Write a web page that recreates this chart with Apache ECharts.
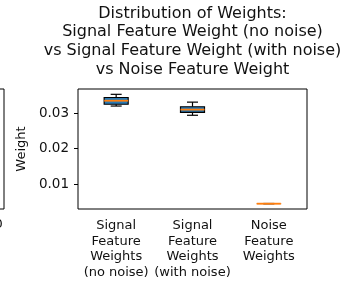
<!DOCTYPE html>
<html lang="en">
  <head>
    <meta charset="UTF-8" />
    <title>Distribution of Weights</title>
    <script src="https://cdn.jsdelivr.net/npm/echarts@6.0.0/dist/echarts.min.js"></script>
    <style>
      body {
        margin: 0;
        padding: 0;
        background: #fff;
      }
      #chart {
        width: 344px;
        height: 283px;
      }
    </style>
  </head>
  <body>
    <div id="chart"></div>

    <script>
      // data
      var categories = [
        'Signal\nFeature\nWeights\n(no noise)',
        'Signal\nFeature\nWeights\n(with noise)',
        'Noise\nFeature\nWeights'
      ];
      // [low whisker, Q1, median, Q3, high whisker]
      var signalNoNoise = [0.0320, 0.0325, 0.0335, 0.0344, 0.0353];
      var signalWithNoise = [0.0294, 0.0302, 0.0310, 0.0318, 0.0331];
      var noiseWeights = [0.00445, 0.00448, 0.0045, 0.00452, 0.00455];
      var yTicks = [0.01, 0.02, 0.03];

      var boxes = [signalNoNoise, signalWithNoise, noiseWeights].map(function (b, i) {
        return [i].concat(b);
      });

      var font = 'DejaVu Sans';
      var chart = echarts.init(document.getElementById('chart'));

      var option = {
        animation: false,
        title: {
          text: 'Distribution of Weights:\nSignal Feature Weight (no noise)\nvs Signal Feature Weight (with noise)\nvs Noise Feature Weight',
          left: 192.5,
          top: 4,
          padding: 0,
          textAlign: 'center',
          textStyle: {
            fontFamily: font,
            fontSize: 16,
            fontWeight: 'normal',
            color: '#111',
            lineHeight: 18.7
          }
        },
        grid: [
          {
            left: 78,
            right: 37,
            top: 89,
            bottom: 74,
            outerBoundsMode: 'none',
            show: true,
            borderColor: '#000',
            borderWidth: 1
          },
          {
            // right edge of the neighbouring subplot
            left: -100,
            width: 104,
            top: 89,
            bottom: 74,
            outerBoundsMode: 'none',
            show: true,
            borderColor: '#000',
            borderWidth: 1
          }
        ],
        xAxis: [
          {
            type: 'category',
            data: categories,
            gridIndex: 0,
            axisLine: { show: false },
            axisTick: { alignWithLabel: true, length: 4, lineStyle: { color: '#000' } },
            axisLabel: {
              fontFamily: font,
              fontSize: 13,
              color: '#111',
              lineHeight: 15.5,
              margin: 9,
              interval: 0
            }
          },
          {
            type: 'value',
            gridIndex: 1,
            min: 0,
            max: 11,
            interval: 10,
            splitLine: { show: false },
            axisLine: { show: false },
            axisTick: { show: true, length: 4, lineStyle: { color: '#000' } },
            axisLabel: { fontFamily: font, fontSize: 13, color: '#111', margin: 9 }
          }
        ],
        yAxis: [
          {
            type: 'value',
            gridIndex: 0,
            min: 0.003,
            max: 0.0368,
            name: 'Weight',
            nameLocation: 'middle',
            nameGap: 42,
            nameTextStyle: { fontFamily: font, fontSize: 13, color: '#111' },
            splitLine: { show: false },
            axisLine: { show: false },
            axisTick: {
              show: true,
              length: 4,
              customValues: yTicks,
              lineStyle: { color: '#000' }
            },
            axisLabel: {
              fontFamily: font,
              fontSize: 13.5,
              color: '#111',
              margin: 9,
              customValues: yTicks,
              formatter: function (v) { return v.toFixed(2); }
            }
          },
          {
            type: 'value',
            gridIndex: 1,
            show: false
          }
        ],
        series: [
          {
            type: 'custom',
            xAxisIndex: 0,
            yAxisIndex: 0,
            data: boxes,
            renderItem: function (params, api) {
              var x = api.value(0);
              var lo = api.coord([x, api.value(1)]);
              var q1 = api.coord([x, api.value(2)]);
              var med = api.coord([x, api.value(3)]);
              var q3 = api.coord([x, api.value(4)]);
              var hi = api.coord([x, api.value(5)]);
              var cx = lo[0];
              var bw = 24, cw = 11;
              var line = { stroke: '#000', lineWidth: 1.2 };
              return {
                type: 'group',
                children: [
                  { type: 'line', shape: { x1: cx, y1: hi[1], x2: cx, y2: q3[1] }, style: line },
                  { type: 'line', shape: { x1: cx, y1: q1[1], x2: cx, y2: lo[1] }, style: line },
                  { type: 'line', shape: { x1: cx - cw / 2, y1: hi[1], x2: cx + cw / 2, y2: hi[1] }, style: line },
                  { type: 'line', shape: { x1: cx - cw / 2, y1: lo[1], x2: cx + cw / 2, y2: lo[1] }, style: line },
                  {
                    type: 'rect',
                    shape: { x: cx - bw / 2, y: q3[1], width: bw, height: q1[1] - q3[1] },
                    style: { fill: '#2a7ab5', stroke: x === 2 ? '#f5b98a' : '#000', lineWidth: 1.2 }
                  },
                  {
                    type: 'line',
                    shape: { x1: cx - bw / 2, y1: med[1], x2: cx + bw / 2, y2: med[1] },
                    style: { stroke: '#ff7f0e', lineWidth: 1.8 }
                  }
                ]
              };
            }
          }
        ]
      };
      chart.setOption(option);
    </script>
  </body>
</html>
